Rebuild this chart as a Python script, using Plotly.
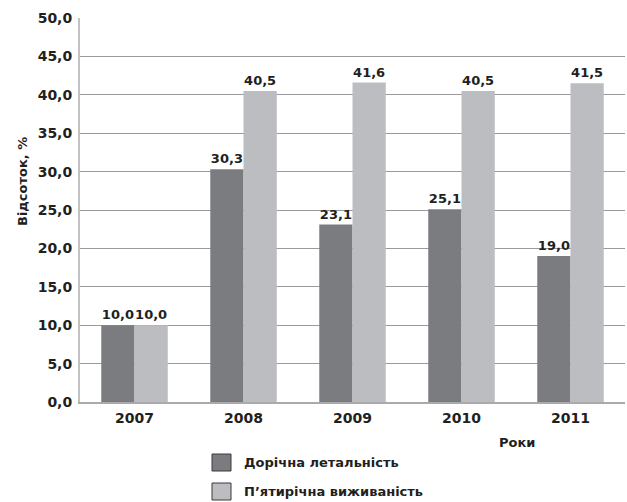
import plotly.graph_objects as go

years = ["2007", "2008", "2009", "2010", "2011"]
mortality = [10.0, 30.3, 23.1, 25.1, 19.0]
survival = [10.0, 40.5, 41.6, 40.5, 41.5]
name_mortality = "Дорічна летальність"
name_survival = "П’ятирічна виживаність"
y_title = "Відсоток, %"
x_title = "Роки"

FONT = "DejaVu Sans, Liberation Sans, Arial, sans-serif"
TXT = "#231f20"
C_DARK = "#7b7c80"
C_LIGHT = "#bcbdc1"

fig = go.Figure()
series = [
    (name_mortality, mortality, C_DARK),
    (name_survival, survival, C_LIGHT),
]
for name, vals, col in series:
    fig.add_trace(go.Bar(
        x=years, y=vals, name=name,
        marker=dict(color=col, line=dict(width=0)),
        texttemplate="%{y:.1f}", textposition="outside", cliponaxis=False,
        constraintext="none",
        textfont=dict(family=FONT, size=13, color=TXT, weight="bold"),
    ))

# plot area: x 80..625, y 18..402
W0, W1 = 80, 625
H0, H1 = 18, 402
def px(x):
    return (x - W0) / (W1 - W0)
def py(y):
    return (H1 - y) / (H1 - H0)

shapes = []
annotations = []
legend_rows = [(name_mortality, C_DARK, 454, 471), (name_survival, C_LIGHT, 483, 500)]
for name, col, top, bot in legend_rows:
    shapes.append(dict(type="rect", xref="paper", yref="paper",
                       x0=px(212), x1=px(231), y0=py(bot), y1=py(top),
                       fillcolor=col, line=dict(color="#3a3a3c", width=1)))
    annotations.append(dict(text=name, xref="paper", yref="paper",
                            x=px(242), y=py((top + bot) / 2),
                            xanchor="left", yanchor="middle", showarrow=False,
                            font=dict(family=FONT, size=13, color=TXT, weight="bold")))
annotations.append(dict(text=x_title, xref="paper", yref="paper", x=px(517), y=py(442),
                        xanchor="center", yanchor="middle", showarrow=False,
                        font=dict(family=FONT, size=13, color=TXT, weight="bold")))
annotations.append(dict(text=y_title, xref="paper", yref="paper", x=px(22), y=py(182),
                        xanchor="center", yanchor="middle", showarrow=False, textangle=-90,
                        font=dict(family=FONT, size=13, color=TXT, weight="bold")))

fig.update_layout(
    width=627, height=502,
    margin=dict(l=W0, r=627 - W1, t=H0, b=502 - H1, autoexpand=False),
    plot_bgcolor="white", paper_bgcolor="white",
    separators=", ",
    barmode="group", bargap=0.39, bargroupgap=0,
    font=dict(family=FONT, size=14, color=TXT, weight="bold"),
    showlegend=False,
    shapes=shapes,
    annotations=annotations,
)
fig.update_yaxes(
    range=[0, 50], dtick=5, tickformat=".1f",
    showgrid=True, gridcolor="#9a9a9c", gridwidth=1,
    showline=True, linecolor="#c2c2c4", linewidth=2,
    ticks="outside", ticklen=3, tickcolor="rgba(0,0,0,0)", zeroline=False,
    tickfont=dict(family=FONT, size=14, color=TXT, weight="bold"),
)
fig.update_xaxes(
    showline=True, linecolor="#aaaaac", linewidth=2,
    ticks="outside", ticklen=2, tickcolor="rgba(0,0,0,0)", showgrid=False,
    tickfont=dict(family=FONT, size=14, color=TXT, weight="bold"),
)

fig.write_html("out.html", config={"displayModeBar": False},
               post_script="document.body.style.margin='0px';")
